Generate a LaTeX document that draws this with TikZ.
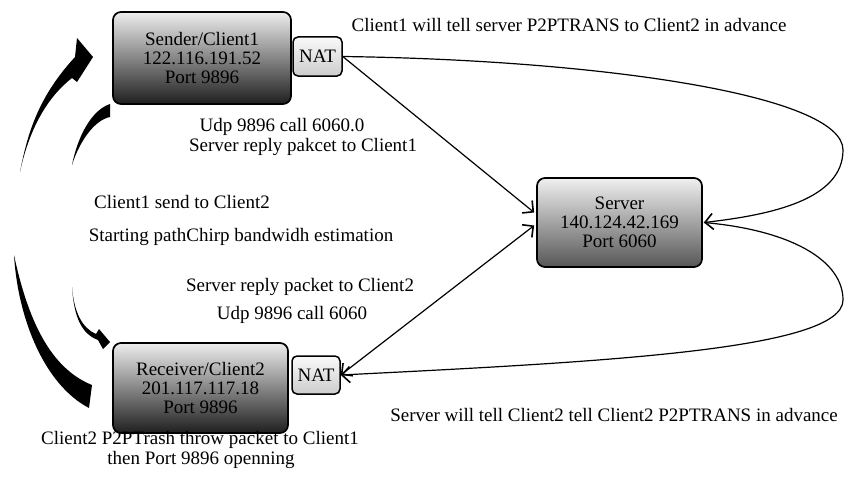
\documentclass[tikz,border=0pt]{standalone}
\usepackage{fontspec}
\setmainfont{Liberation Serif}
\usetikzlibrary{arrows.meta}
\begin{document}
\begin{tikzpicture}[x=1pt,y=-1pt,
  >={Straight Barb[length=8pt,width=16pt,line width=1.6pt]},
  txt/.style={font=\fontsize{19}{19}\selectfont},
  box/.style={txt, draw=black, line width=1.7pt, rounded corners=8pt, align=center, inner sep=0pt},
  host/.style={box, top color=black!7, bottom color=black!88},
  srvbox/.style={box, top color=black!6, bottom color=black!66},
  natbox/.style={box, rounded corners=5pt, line width=1.5pt, top color=black!2, bottom color=black!20},
  lbl/.style={txt, inner sep=0pt},
  link/.style={line width=1.2pt},
  blade/.style={fill=black, draw=none}]
\useasboundingbox (0,0) rectangle (845,487);

% hosts, NAT boxes and server
\node[host, minimum width=178pt, minimum height=92pt] (c1) at (202,58)
  {Sender/Client1\\122.116.191.52\\Port 9896};
\node[natbox, minimum width=49pt, minimum height=39pt] (n1) at (317.5,56.5) {NAT};
\node[host, minimum width=175pt, minimum height=90pt] (c2) at (200.5,388)
  {Receiver/Client2\\201.117.117.18\\Port 9896};
\node[natbox, minimum width=48pt, minimum height=38pt] (n2) at (316,375) {NAT};
\node[srvbox, minimum width=165pt, minimum height=89pt] (srv) at (619.5,222.5)
  {Server\\140.124.42.169\\Port 6060};

% connectors between NATs and server
\draw[link,->] (n1.east) -- ([xshift=-2pt,yshift=10pt]srv.west);
\draw[link,<->] (n2.east) -- ([xshift=-2pt,yshift=-3pt]srv.west);
\draw[link,->] (n1.east) .. controls (600,60) and (843,95) .. (843,150)
  .. controls (843,200) and (770,215) .. ([xshift=1pt]srv.east);
\draw[link,->] ([xshift=1pt]srv.east) .. controls (790,230) and (843,260) .. (843,300)
  .. controls (843,350) and (600,362) .. (n2.east);

% thick curved strokes on the left
\fill[blade] (20,172) .. controls (28,130) and (40,95) .. (75,57)
  -- (77,38) -- (93,57) -- (77,82) -- (72,78)
  .. controls (50,95) and (30,125) .. (20,172) -- cycle;
\fill[blade] (72,165) .. controls (78,135) and (92,110) .. (110,104)
  -- (110,117) .. controls (95,120) and (80,140) .. (72,165) -- cycle;
\fill[blade] (72,287) .. controls (74,312) and (82,328) .. (96,334)
  -- (99,329) -- (110,342) -- (103,349) -- (98,340)
  .. controls (82,334) and (74,318) .. (72,287) -- cycle;
\fill[blade] (14,255) .. controls (18,320) and (45,385) .. (89,408)
  -- (92,385) .. controls (55,370) and (30,330) .. (14,255) -- cycle;

% labels
\node[lbl] (t1) at (569,25) {Client1 will tell server P2PTRANS to Client2 in advance};
\node[lbl] (t2) at (282,127) {Udp 9896 call 6060.0};
\node[lbl] (t3) at (303,147) {Server reply pakcet to Client1};
\node[lbl] (t4) at (182,202) {Client1 send to Client2};
\node[lbl] (t5) at (241,237) {Starting pathChirp bandwidh estimation};
\node[lbl] (t6) at (300,287) {Server reply packet to Client2};
\node[lbl] (t7) at (292,315) {Udp 9896 call 6060};
\node[lbl] (t8) at (614,415) {Server will tell Client2 tell Client2 P2PTRANS in advance};
\node[lbl] (t9) at (200,440) {Client2 P2PTrash throw packet to Client1};
\node[lbl] (t10) at (201,460) {then Port 9896 openning};
\end{tikzpicture}
\end{document}
